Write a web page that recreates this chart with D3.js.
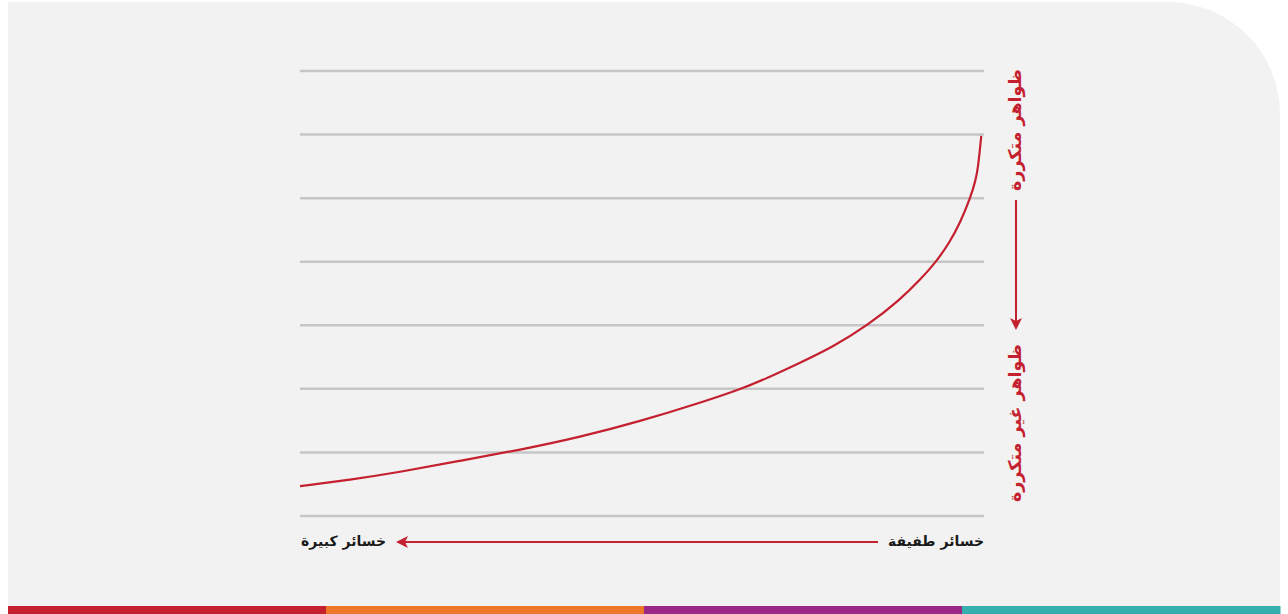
<!DOCTYPE html>
<html>
<head>
<meta charset="utf-8">
<script src="https://cdn.jsdelivr.net/npm/d3@7"></script>
<style>
  body { margin: 0; background: #fff; }
  svg { display: block; }
</style>
</head>
<body>
<svg id="chart"></svg>
<script>
// Размеры
const width = 1288;
const height = 614;

// Данные: величина потерь (0 - малые, 10 - большие) и частота
const loss = [0.04, 0.06, 0.09, 0.12, 0.20, 0.35, 0.50, 0.69, 0.94, 1.23, 1.70, 2.21, 2.69, 3.17, 3.52, 4.15, 5.03, 5.91, 6.78, 7.66, 8.54, 9.27, 10.0];
const freq = [5.98, 5.76, 5.47, 5.29, 5.00, 4.61, 4.31, 4.01, 3.71, 3.40, 3.00, 2.66, 2.41, 2.17, 2.01, 1.78, 1.49, 1.24, 1.04, 0.87, 0.69, 0.57, 0.47];
const gridLevels = [0, 1, 2, 3, 4, 5, 6, 7];
const stripeColors = ['#C4202F', '#EE7628', '#9A2886', '#37AFAE'];
const labelFrequent = 'ظواهر متكررة';
const labelRare = 'ظواهر غير متكررة';
const labelSmall = 'خسائر طفيفة';
const labelBig = 'خسائر كبيرة';

const red = '#C4202F';

const svg = d3.select('#chart').attr('width', width).attr('height', height);

// Фон с закруглённым углом
const px0 = 8, py0 = 2, px1 = 1280, py1 = 606, r = 112;
svg.append('path')
  .attr('d', `M${px0},${py0} H${px1 - r} A${r},${r} 0 0 1 ${px1},${py0 + r} V${py1} H${px0} Z`)
  .attr('fill', '#f2f2f2');

// Цветные полосы снизу
const xStripe = d3.scaleBand().domain(d3.range(stripeColors.length)).range([px0, px1]);
svg.selectAll('rect.stripe').data(stripeColors).enter().append('rect')
  .attr('class', 'stripe')
  .attr('x', (d, i) => xStripe(i))
  .attr('y', py1)
  .attr('width', xStripe.bandwidth() + 0.5)
  .attr('height', height - py1)
  .attr('fill', d => d);

// Шкалы
const x = d3.scaleLinear().domain([0, 10]).range([984, 300]);
const y = d3.scaleLinear().domain([0, 7]).range([516, 71]);

// Сетка
svg.selectAll('line.grid').data(gridLevels).enter().append('line')
  .attr('class', 'grid')
  .attr('x1', 300).attr('x2', 984)
  .attr('y1', d => y(d)).attr('y2', d => y(d))
  .attr('stroke', '#c6c6c6')
  .attr('stroke-width', 2.5);

// Кривая
const points = loss.map((l, i) => ({ loss: l, freq: freq[i] }));
svg.append('path')
  .datum(points)
  .attr('fill', 'none')
  .attr('stroke', red)
  .attr('stroke-width', 2.2)
  .attr('d', d3.line().x(d => x(d.loss)).y(d => y(d.freq)).curve(d3.curveBasis));

// Стрелки
svg.append('defs').append('marker')
  .attr('id', 'arrow')
  .attr('viewBox', '0 0 12 12')
  .attr('refX', 10).attr('refY', 6)
  .attr('markerWidth', 12).attr('markerHeight', 12)
  .attr('markerUnits', 'userSpaceOnUse')
  .attr('orient', 'auto')
  .append('path')
  .attr('d', 'M0,0 L12,6 L0,12 L3,6 Z')
  .attr('fill', red);

// Вертикальная подпись
const vx = 1016;
svg.append('text')
  .attr('transform', `translate(${vx + 5},${130}) rotate(-90)`)
  .attr('text-anchor', 'middle')
  .attr('font-family', 'DejaVu Sans')
  .attr('font-weight', 'bold')
  .attr('font-size', 17.5)
  .attr('fill', red)
  .text(labelFrequent);

svg.append('line')
  .attr('x1', vx).attr('x2', vx)
  .attr('y1', 200).attr('y2', 328)
  .attr('stroke', red).attr('stroke-width', 2)
  .attr('marker-end', 'url(#arrow)');

svg.append('text')
  .attr('transform', `translate(${vx + 5},${423}) rotate(-90)`)
  .attr('text-anchor', 'middle')
  .attr('font-family', 'DejaVu Sans')
  .attr('font-weight', 'bold')
  .attr('font-size', 17.5)
  .attr('fill', red)
  .text(labelRare);

// Горизонтальная подпись
svg.append('text')
  .attr('x', 984).attr('y', 546)
  .attr('text-anchor', 'end')
  .attr('font-family', 'DejaVu Sans')
  .attr('font-weight', 'bold')
  .attr('font-size', 14)
  .attr('fill', '#1a1a1a')
  .text(labelSmall);

svg.append('line')
  .attr('x1', 878).attr('x2', 398)
  .attr('y1', 542).attr('y2', 542)
  .attr('stroke', red).attr('stroke-width', 2)
  .attr('marker-end', 'url(#arrow)');

svg.append('text')
  .attr('x', 386).attr('y', 546)
  .attr('text-anchor', 'end')
  .attr('font-family', 'DejaVu Sans')
  .attr('font-weight', 'bold')
  .attr('font-size', 14)
  .attr('fill', '#1a1a1a')
  .text(labelBig);
</script>
</body>
</html>
